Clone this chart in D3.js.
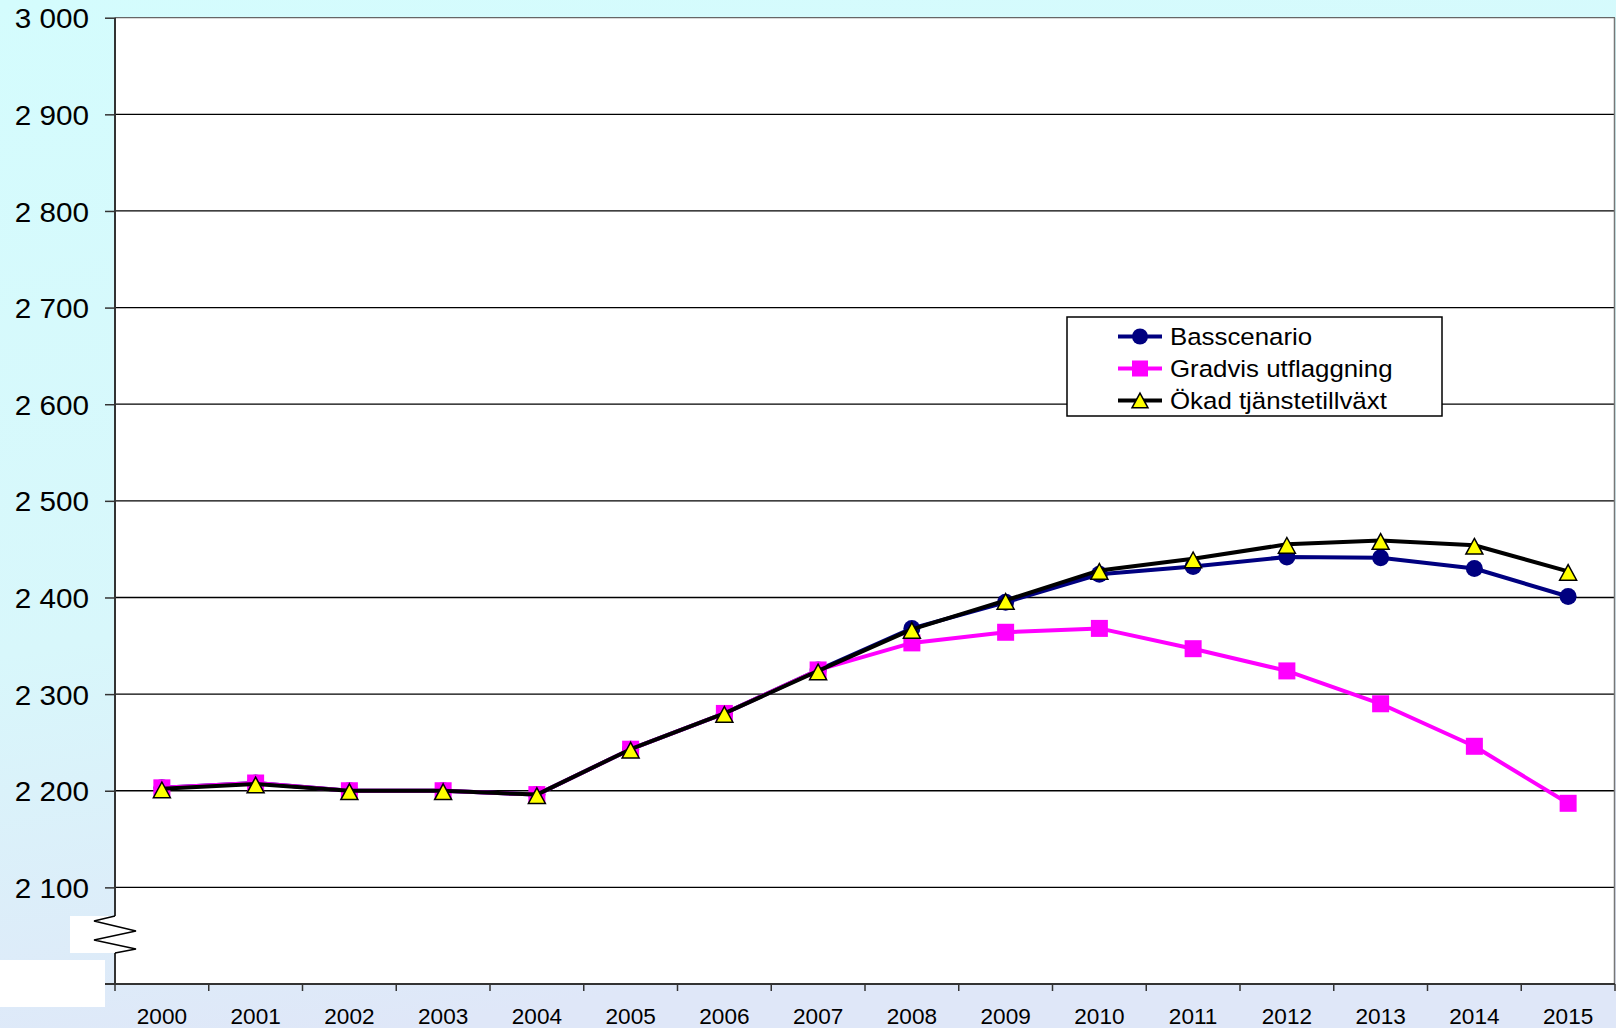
<!DOCTYPE html>
<html>
<head>
<meta charset="utf-8">
<script src="https://cdn.jsdelivr.net/npm/d3@7/dist/d3.min.js"></script>
<style>
  html, body { margin: 0; padding: 0; background: #fff; }
  svg { display: block; }
  text { font-family: "Liberation Sans", Arial, sans-serif; }
</style>
</head>
<body>
<svg id="chart" width="1616" height="1028"></svg>
<script>
// ---- data ----
const years = ["2000","2001","2002","2003","2004","2005","2006","2007","2008","2009","2010","2011","2012","2013","2014","2015"];
const basscenario = [2203, 2208, 2200, 2200, 2196, 2243, 2280, 2325, 2368, 2395, 2424, 2432, 2442, 2441, 2430, 2401];
const gradvis     = [2203, 2208, 2200, 2200, 2196, 2243, 2280, 2325, 2353, 2364, 2368, 2347, 2324, 2290, 2246, 2187];
const okad        = [2202, 2207, 2200, 2200, 2196, 2243, 2280, 2324, 2367, 2397, 2428, 2440, 2455, 2459, 2454, 2427];
const seriesNames = ["Basscenario", "Gradvis utflaggning", "Ökad tjänstetillväxt"];
const yTickValues = [2100, 2200, 2300, 2400, 2500, 2600, 2700, 2800, 2900, 3000];
const yDomain = [2000, 3000];

// ---- layout ----
const W = 1616, H = 1028;
const mLeft = 115, mRight = 1615, mTop = 17.7, mBottom = 984;

const svg = d3.select("#chart");
const defs = svg.append("defs");
const bg = defs.append("linearGradient").attr("id", "bg").attr("x1", 0).attr("y1", 0).attr("x2", 0.25).attr("y2", 1);
bg.append("stop").attr("offset", "0%").attr("stop-color", "#d4fcfd");
bg.append("stop").attr("offset", "60%").attr("stop-color", "#d8f7fb");
bg.append("stop").attr("offset", "100%").attr("stop-color", "#dfe7f8");
svg.append("rect").attr("width", W).attr("height", H).attr("fill", "url(#bg)");

const x = d3.scaleBand().domain(years).range([mLeft, mRight]).padding(0);
const y = d3.scaleLinear().domain(yDomain).range([mBottom, mTop]);

// plot area
svg.append("rect").attr("x", mLeft).attr("y", mTop).attr("width", mRight - mLeft).attr("height", mBottom - mTop).attr("fill", "#fff");

// gridlines
svg.append("g").selectAll("line").data(yTickValues).join("line")
  .attr("x1", mLeft).attr("x2", mRight)
  .attr("y1", d => y(d)).attr("y2", d => y(d))
  .attr("stroke", d => d === 3000 ? "#666" : "#000").attr("stroke-width", 1.3);

// right border
svg.append("line").attr("x1", mRight - 0.5).attr("x2", mRight - 0.5).attr("y1", mTop).attr("y2", mBottom)
  .attr("stroke", "#777").attr("stroke-width", 1.5);

// y axis
const fmt = d3.formatLocale({decimal: ",", thousands: " ", grouping: [3], currency: ["", ""]}).format(",d");
const yAxis = d3.axisLeft(y).tickValues(yTickValues).tickSize(10).tickPadding(16).tickFormat(fmt);
const gy = svg.append("g").attr("transform", `translate(${mLeft},0)`).call(yAxis);
gy.select(".domain").remove();
gy.selectAll(".tick line").attr("stroke", "#333").attr("stroke-width", 1.5);
gy.selectAll(".tick text").attr("font-size", 28).attr("fill", "#000").attr("dy", "0.36em")
  .attr("x", 0).attr("transform", "translate(-26,0) scale(1.06,1)")
  .style("font-family", "'Liberation Sans', Arial, sans-serif");

// y axis line (broken near bottom)
const breakTop = 916, breakBot = 953;
svg.append("line").attr("x1", mLeft).attr("x2", mLeft).attr("y1", mTop).attr("y2", breakTop).attr("stroke", "#333").attr("stroke-width", 2);
svg.append("line").attr("x1", mLeft).attr("x2", mLeft).attr("y1", breakBot).attr("y2", mBottom).attr("stroke", "#333").attr("stroke-width", 2);

// x axis
svg.append("line").attr("x1", mLeft - 10).attr("x2", mRight).attr("y1", mBottom).attr("y2", mBottom).attr("stroke", "#333").attr("stroke-width", 2);
const bw = x.bandwidth();
svg.append("g").selectAll("line").data(d3.range(years.length + 1)).join("line")
  .attr("x1", i => mLeft + i * bw).attr("x2", i => mLeft + i * bw)
  .attr("y1", mBottom).attr("y2", mBottom + 7)
  .attr("stroke", "#333").attr("stroke-width", 1.5);
const xAxis = d3.axisBottom(x).tickSize(0).tickPadding(0);
const gx = svg.append("g").attr("transform", `translate(0,${mBottom})`).call(xAxis);
gx.select(".domain").remove();
gx.selectAll(".tick text").attr("font-size", 21.5).attr("fill", "#000").attr("y", 0).attr("dy", 0)
  .attr("transform", "translate(0,40) scale(1.05,1)")
  .style("font-family", "'Liberation Sans', Arial, sans-serif");

// axis break decoration
svg.append("rect").attr("x", 70).attr("y", breakTop).attr("width", mLeft - 70).attr("height", breakBot - breakTop).attr("fill", "#fff");
svg.append("rect").attr("x", 0).attr("y", 960).attr("width", 105).attr("height", 47).attr("fill", "#fff");
svg.append("polyline")
  .attr("points", [[mLeft, breakTop], [94, 921], [136, 931], [94, 940], [136, 949], [mLeft, breakBot]].map(p => p.join(",")).join(" "))
  .attr("fill", "none").attr("stroke", "#000").attr("stroke-width", 1.5);

// ---- series ----
const cx = (d, i) => x(years[i]) + bw / 2;
const line = d3.line().x((d, i) => x(years[i]) + bw / 2).y(d => y(d));

function triPath(s) {
  const h = s * 0.92;
  return `M0,${-h / 2}L${s / 2},${h / 2}L${-s / 2},${h / 2}Z`;
}

// Basscenario
svg.append("path").datum(basscenario).attr("d", line).attr("fill", "none").attr("stroke", "#000080").attr("stroke-width", 4).attr("stroke-linejoin", "round");
svg.append("g").selectAll("circle").data(basscenario).join("circle")
  .attr("cx", cx).attr("cy", d => y(d)).attr("r", 8.5).attr("fill", "#000080");

// Gradvis
svg.append("path").datum(gradvis).attr("d", line).attr("fill", "none").attr("stroke", "#ff00ff").attr("stroke-width", 4).attr("stroke-linejoin", "round");
svg.append("g").selectAll("rect").data(gradvis).join("rect")
  .attr("x", (d, i) => cx(d, i) - 8.5).attr("y", d => y(d) - 8.5).attr("width", 17).attr("height", 17).attr("fill", "#ff00ff");

// Ökad
svg.append("path").datum(okad).attr("d", line).attr("fill", "none").attr("stroke", "#000").attr("stroke-width", 4).attr("stroke-linejoin", "round");
svg.append("g").selectAll("path").data(okad).join("path")
  .attr("d", triPath(17))
  .attr("transform", (d, i) => `translate(${cx(d, i)},${y(d) + 1})`)
  .attr("fill", "#ffff00").attr("stroke", "#000").attr("stroke-width", 1.5).attr("stroke-linejoin", "miter");

// ---- legend ----
const lg = svg.append("g");
lg.append("rect").attr("x", 1067).attr("y", 317).attr("width", 375).attr("height", 99)
  .attr("fill", "#fff").attr("stroke", "#000").attr("stroke-width", 1.5);
const rowsY = [336.5, 368.5, 400.5];
const colors = ["#000080", "#ff00ff", "#000"];
seriesNames.forEach((name, k) => {
  const g = lg.append("g").attr("transform", `translate(0,${rowsY[k]})`);
  g.append("line").attr("x1", 1118).attr("x2", 1162).attr("y1", 0).attr("y2", 0).attr("stroke", colors[k]).attr("stroke-width", 4);
  if (k === 0) g.append("circle").attr("cx", 1140).attr("cy", 0).attr("r", 8).attr("fill", "#000080");
  if (k === 1) g.append("rect").attr("x", 1140 - 8).attr("y", -8).attr("width", 16).attr("height", 16).attr("fill", "#ff00ff");
  if (k === 2) g.append("path").attr("d", triPath(16)).attr("transform", "translate(1140,0)").attr("fill", "#ffff00").attr("stroke", "#000").attr("stroke-width", 1.5);
  g.append("text").attr("x", 0).attr("y", 0).attr("dy", "0.36em").attr("font-size", 23.5).attr("fill", "#000")
    .attr("transform", "translate(1170,0) scale(1.1,1)").text(name);
});
</script>
</body>
</html>
